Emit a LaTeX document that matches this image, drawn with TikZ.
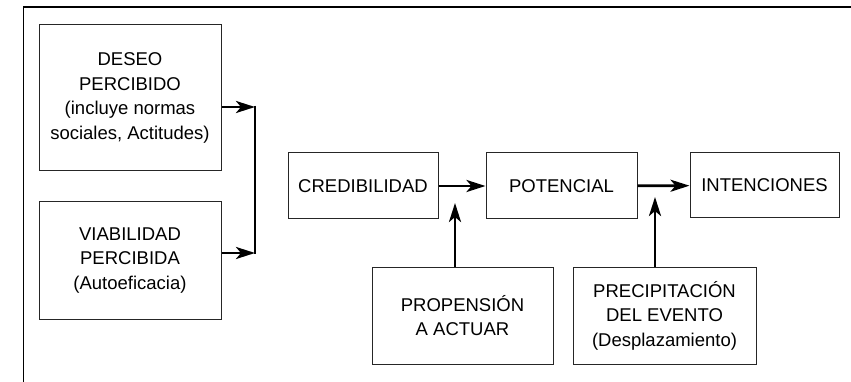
\documentclass[tikz,border=0pt]{standalone}
\usepackage{fontspec}
\setmainfont{Liberation Sans}
\usetikzlibrary{arrows.meta}
\begin{document}
\begin{tikzpicture}[x=1pt,y=-1pt,
  box/.style={draw=black!85,line width=1pt,rectangle,align=center,inner sep=0pt,
    font=\fontsize{18.5}{24.5}\selectfont},
  arr/.style={line width=2.8pt,-{Stealth[length=19pt,width=12pt,inset=5pt]}},
  frame/.style={line width=1.1pt}]
\useasboundingbox (0,0) rectangle (851,382);
\draw[frame] (23.5,382) -- (23.5,7) -- (851,7);
\node[box,minimum width=182pt,minimum height=146pt] (des) at (130,98)
  {DESEO\\PERCIBIDO\\(incluye normas\\sociales, Actitudes)};
\node[box,minimum width=182pt,minimum height=117pt] (via) at (130,260.5)
  {VIABILIDAD\\PERCIBIDA\\(Autoeficacia)};
\node[box,minimum width=150pt,minimum height=66pt] (cre) at (363,186) {CREDIBILIDAD};
\node[box,minimum width=151pt,minimum height=66pt] (pot) at (561.5,186) {POTENCIAL};
\node[box,minimum width=149pt,minimum height=65pt] (int) at (764.5,185.5) {INTENCIONES};
\node[box,minimum width=181pt,minimum height=97pt] (pro) at (462.5,315.5) {PROPENSIÓN\\A ACTUAR};
\node[box,minimum width=183pt,minimum height=97pt] (pre) at (664.5,315.5)
  {PRECIPITACIÓN\\DEL EVENTO\\(Desplazamiento)};
\coordinate (j1) at (255,107);
\coordinate (j2) at (255,253);
\coordinate (p1) at (455,203);
\coordinate (p2) at (655,197);
\draw[arr] (des.east |- j1) -- (j1);
\draw[arr] (via.east |- j2) -- (j2);
\draw[line width=2.8pt] ([yshift=1.4pt]j1) -- ([yshift=-1.4pt]j2);
\draw[arr] (cre) -- (pot);
\draw[arr] (pot) -- (int);
\draw[arr] (pro.north -| p1) -- (p1);
\draw[arr] (pre.north -| p2) -- (p2);
\end{tikzpicture}
\end{document}
